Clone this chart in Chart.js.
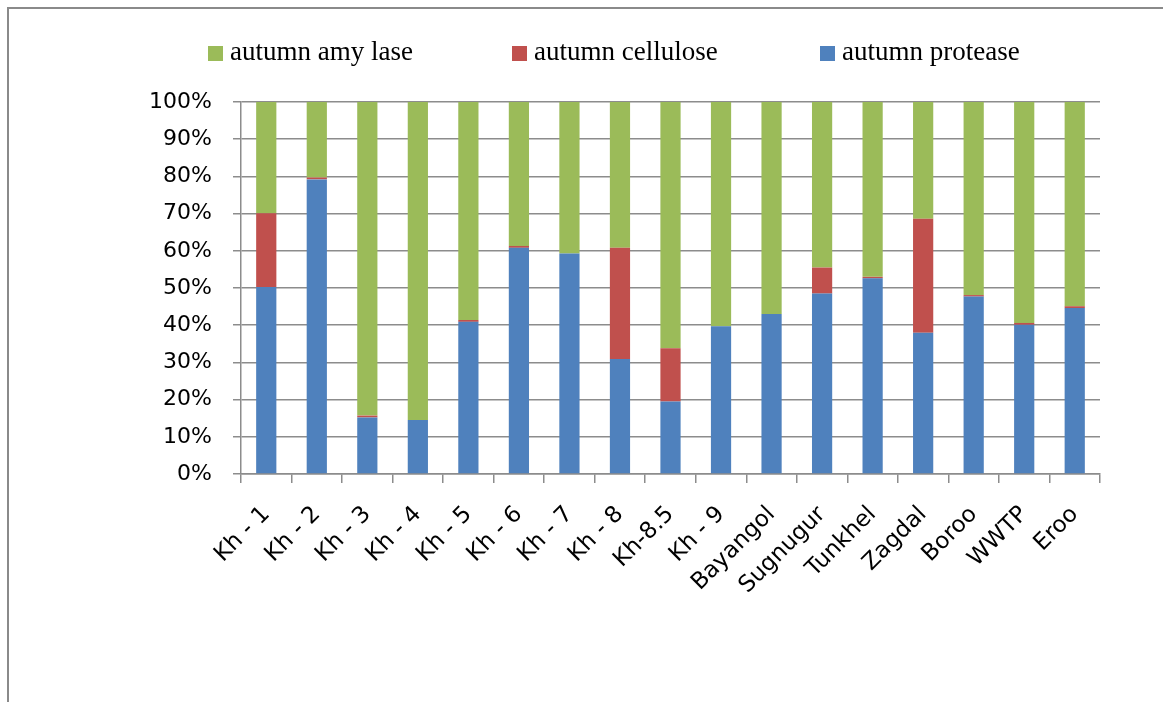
<!DOCTYPE html>
<html>
<head>
<meta charset="utf-8">
<script src="https://cdn.jsdelivr.net/npm/chart.js@4/dist/chart.umd.min.js"></script>
<style>
  html, body { margin: 0; padding: 0; background: #ffffff; }
  #wrap { position: relative; width: 1163px; height: 702px; overflow: hidden; }
  #frame { position: absolute; left: 7px; top: 7px; right: -10px; bottom: -10px;
           border-left: 2px solid #8a8a8a; border-top: 2px solid #8a8a8a; }
  canvas { position: absolute; left: 0; top: 0; }
</style>
</head>
<body>
<div id="wrap">
  <div id="frame"></div>
  <canvas id="chart" width="1163" height="702"></canvas>
</div>
<script>
// Sampling sites
const categories = ['Kh - 1', 'Kh - 2', 'Kh - 3', 'Kh - 4', 'Kh - 5', 'Kh - 6', 'Kh - 7', 'Kh - 8',
  'Kh-8.5', 'Kh - 9', 'Bayangol', 'Sugnugur', 'Tunkhel', 'Zagdal', 'Boroo', 'WWTP', 'Eroo'];

// Share of each enzyme activity (%), autumn
const protease  = [50.3, 79.2, 15.2, 14.5, 40.9, 60.8, 59.3, 30.9, 19.5, 39.7, 43.0, 48.5, 52.6, 38.0, 47.7, 40.1, 44.6];
const cellulose = [19.8,  0.5,  0.5,  0.0,  0.5,  0.5,  0.0, 29.9, 14.3,  0.0,  0.0,  7.0,  0.4, 30.6,  0.4,  0.5,  0.5];
const amylase   = [29.9, 20.3, 84.3, 85.5, 58.6, 38.7, 40.7, 39.2, 66.2, 60.3, 57.0, 44.5, 47.0, 31.4, 51.9, 59.4, 54.9];

const seriesNames = ['autumn protease', 'autumn cellulose', 'autumn amy lase'];
const yTicks = [0, 10, 20, 30, 40, 50, 60, 70, 80, 90, 100];

const AXIS_GREY = '#8c8c8c';

// Legend drawn in a single row above the plot, amylase first
const rowLegend = {
  id: 'rowLegend',
  afterDraw(chart) {
    const ctx = chart.ctx;
    const slots = [208, 512, 820];
    const ds = chart.data.datasets.slice().reverse();
    ctx.save();
    ctx.font = '27px "Liberation Serif", "Times New Roman", serif';
    ctx.textBaseline = 'alphabetic';
    ctx.textAlign = 'left';
    ds.forEach((d, i) => {
      const x = slots[i];
      ctx.fillStyle = d.backgroundColor;
      ctx.fillRect(x, 46, 15, 15);
      ctx.fillStyle = '#000000';
      ctx.fillText(d.label, x + 22, 60);
    });
    ctx.restore();
  }
};

new Chart(document.getElementById('chart'), {
  type: 'bar',
  data: {
    labels: categories,
    datasets: [
      { label: seriesNames[0], data: protease,  backgroundColor: '#4f81bd' },
      { label: seriesNames[1], data: cellulose, backgroundColor: '#c0504d' },
      { label: seriesNames[2], data: amylase,   backgroundColor: '#9bbb59' }
    ]
  },
  options: {
    responsive: false,
    animation: false,
    events: [],
    layout: { padding: { top: 102, right: 63, bottom: 0, left: 0 } },
    datasets: { bar: { categoryPercentage: 1.0, barPercentage: 0.4, borderWidth: 0 } },
    plugins: {
      legend: { display: false },
      tooltip: { enabled: false }
    },
    scales: {
      x: {
        stacked: true,
        afterFit(scale) { scale.height = 228; },
        grid: { display: true, drawOnChartArea: false, offset: true, tickLength: 9, color: AXIS_GREY, lineWidth: 1.5 },
        border: { display: true, color: AXIS_GREY, width: 1.5 },
        ticks: {
          autoSkip: false, maxRotation: 45, minRotation: 45, padding: 18,
          color: '#000000',
          font: { family: '"DejaVu Sans", sans-serif', size: 23 }
        }
      },
      y: {
        stacked: true,
        min: 0, max: 100,
        afterFit(scale) { scale.width = 241; },
        afterBuildTicks(scale) { scale.ticks = yTicks.map(v => ({ value: v })); },
        grid: { color: AXIS_GREY, lineWidth: 1.5, tickLength: 8 },
        border: { display: true, color: AXIS_GREY, width: 1.5 },
        ticks: {
          padding: 21,
          color: '#000000',
          font: { family: '"DejaVu Sans", sans-serif', size: 22 },
          callback: v => v + '%'
        }
      }
    }
  },
  plugins: [rowLegend]
});
</script>
</body>
</html>
